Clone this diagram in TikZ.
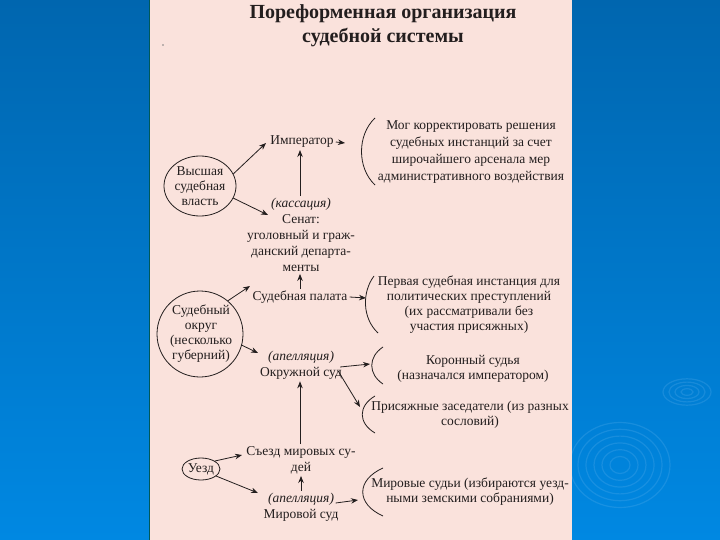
\documentclass[tikz,border=0pt]{standalone}
\usepackage{fontspec}
\setmainfont{Liberation Serif}
\usetikzlibrary{arrows.meta,shapes.geometric}
\definecolor{pagecol}{RGB}{250,226,220}
\definecolor{bgtop}{RGB}{0,102,175}
\definecolor{bgbot}{RGB}{0,136,226}
\definecolor{ink}{RGB}{35,30,30}
\definecolor{ripple}{RGB}{110,185,240}
\begin{document}
\begin{tikzpicture}[x=1pt,y=-1pt,
  txt/.style={align=center,font=\fontsize{13.5}{16}\selectfont,text=ink,inner sep=2pt},
  arr/.style={draw=ink,line width=0.8pt,-{Stealth[length=7pt,width=5.5pt]}},
  brk/.style={draw=ink,line width=0.8pt},
  shp/.style={draw=ink,line width=0.8pt},
  rip/.style={draw=ripple,line width=1.2pt,opacity=0.22}]
\useasboundingbox (0,0) rectangle (720,540);
\shade[top color=bgtop,bottom color=bgbot] (0,0) rectangle (720,540);
% ripples
\foreach \r in {10,18,26,34,42,50}
  \draw[rip] (620,465) ellipse [x radius=\r, y radius=0.85*\r];
\foreach \r in {6,12,18,24}
  \draw[rip] (687,392) ellipse [x radius=\r, y radius=0.55*\r];
% page
\fill[pagecol] (149,0) rectangle (572,540);
\draw[teal!70!black,line width=0.6pt] (149,0) -- (149,540);
% title
\node[txt,font=\fontsize{20}{24}\selectfont\bfseries] (title) at (383,26) {Пореформенная организация\\судебной системы};
\fill[gray] (163,45) circle (0.8);
% top level
\node[shp,ellipse,minimum width=72,minimum height=60,inner sep=0] (vys) at (200,186) {};
\node[txt,font=\fontsize{13.5}{15}\selectfont] (vyst) at (vys.center) {Высшая\\судебная\\власть};
\node[txt] (imp) at (302,142) {Император};
\node[txt,font=\fontsize{13.5}{17}\selectfont] (t1) at (471,152) {Мог корректировать решения\\судебных инстанций за счет\\широчайшего арсенала мер\\административного воздействия};
\node[txt] (sen) at (301,235) {\textit{(кассация)}\\Сенат:\\уголовный и граж-\\данский департа-\\менты};
% middle level
\node[txt] (sp) at (300,297) {Судебная палата};
\node[txt,font=\fontsize{13.5}{15}\selectfont] (t2) at (469,305) {Первая судебная инстанция для\\политических преступлений\\(их рассматривали без\\участия присяжных)};
\node[shp,circle,minimum size=86,inner sep=0] (okr) at (200,334) {};
\node[txt,font=\fontsize{13.5}{15}\selectfont] (okrt) at (201,334) {Судебный\\округ\\(несколько\\губерний)};
\node[txt] (ok) at (301,365) {\textit{(апелляция)}\\Окружной суд};
\node[txt,font=\fontsize{13.5}{15}\selectfont] (t3) at (473,369) {Коронный судья\\(назначался императором)};
\node[txt,font=\fontsize{13.5}{15}\selectfont] (t4) at (470,415) {Присяжные заседатели (из разных\\сословий)};
% bottom level
\node[shp,ellipse,minimum width=38,minimum height=22,inner sep=0] (uezd) at (201,469) {};
\node[txt] (uezdt) at (uezd.center) {Уезд};
\node[txt] (sezd) at (301,460) {Съезд мировых су-\\дей};
\node[txt] (mir) at (301,507) {\textit{(апелляция)}\\Мировой суд};
\node[txt,font=\fontsize{13.5}{15}\selectfont] (t5) at (470,492) {Мировые судьи (избираются уезд-\\ными земскими собраниями)};
% brackets
\draw[brk] (375,118) .. controls (357,135) and (357,168) .. (375,185);
\draw[brk] (374,276) .. controls (362,292) and (362,318) .. (378,333);
\draw[brk] (383,347) .. controls (368,357) and (368,374) .. (383,384);
\draw[brk] (375,396) .. controls (358,406) and (358,423) .. (375,433);
\draw[brk] (383,468) .. controls (356,480) and (356,504) .. (383,516);
% arrow end coordinates
\coordinate (h1) at (266,143);
\coordinate (h2) at (345,143);
\coordinate (h4) at (268,215);
\coordinate (h6) at (250,286);
\coordinate (h7) at (366,298);
\coordinate (h8) at (258,353);
\coordinate (h10) at (370,364);
\coordinate (h11) at (360,407);
\coordinate (h12) at (242,455);
\coordinate (h13) at (258,493);
\coordinate (h15) at (358,500);
% connectors
\draw[arr] (vys.20) -- (h1);
\draw[arr] (imp.east) -- (h2);
\draw[arr] (sen.north -| sp.north) -- (imp.south -| sp.north);
\draw[arr] (vys.-20) -- (h4);
\draw[arr] (sp.north) -- (sen.south -| sp.north);
\draw[arr] (okr.50) -- (h6);
\draw[arr] (sp.east) -- (h7);
\draw[arr] (okr.-15) -- (h8);
\draw[arr] (sezd.north -| sp.south) -- (ok.south -| sp.south);
\draw[arr] ([shift={(-4,2)}]ok.east) -- (h10);
\draw[arr] ([shift={(-6,6)}]ok.east) -- (h11);
\draw[arr] (uezd.30) -- (h12);
\draw[arr] (uezd.-25) -- (h13);
\draw[arr] (mir.north) -- (sezd.south -| mir.north);
\draw[arr] ([shift={(-5,-4)}]mir.east) -- (h15);
\end{tikzpicture}
\end{document}
